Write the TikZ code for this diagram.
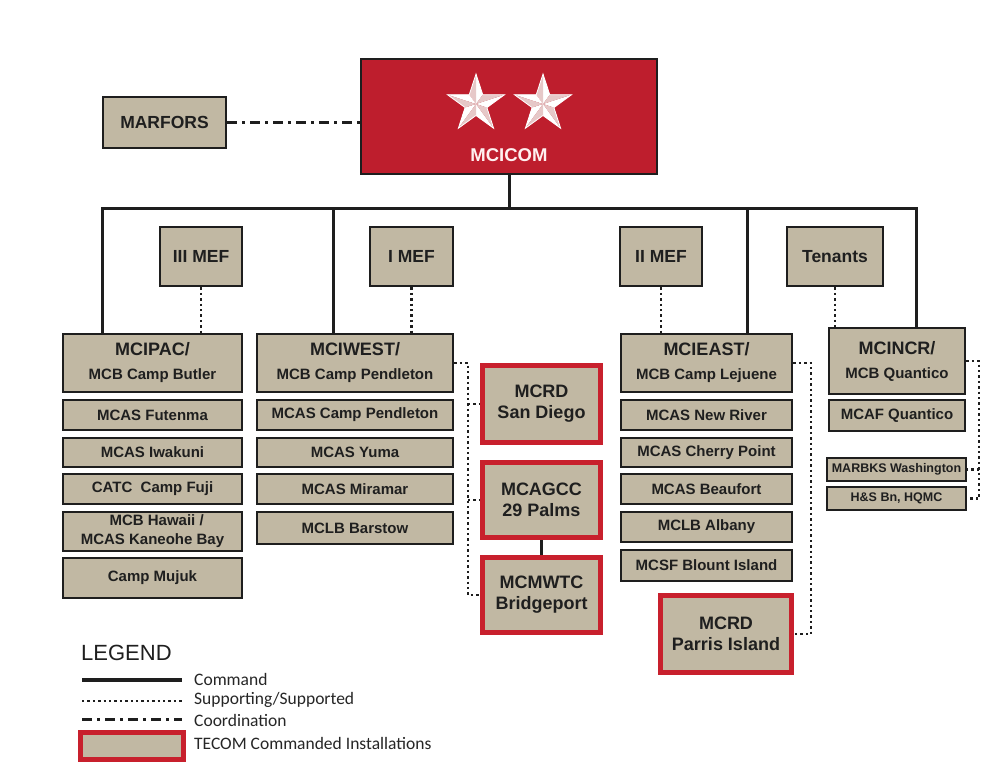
\documentclass[tikz,border=0pt]{standalone}
\usepackage{fontspec}
\setmainfont{Liberation Sans}
\newfontfamily\legendfont{Carlito}
\definecolor{boxtan}{RGB}{193,184,163}
\definecolor{boxline}{RGB}{30,30,30}
\definecolor{tecomred}{RGB}{200,32,45}
\definecolor{cmdred}{RGB}{190,30,45}
\definecolor{starshade}{RGB}{230,200,200}
\tikzset{
  box/.style={draw=boxline, line width=2.8pt, fill=boxtan, inner sep=0pt, align=center,
    font=\bfseries\fontsize{15}{19}\selectfont, text=black!88},
  headbox/.style={box, font=\bfseries\fontsize{15}{24}\selectfont},
  mefbox/.style={box, font=\bfseries\fontsize{17.5}{21}\selectfont, minimum height=59pt},
  tecom/.style={box, draw=tecomred, line width=5pt, font=\bfseries\fontsize{18}{21}\selectfont},
  smallbox/.style={box, font=\bfseries\fontsize{12.5}{15}\selectfont},
  cmdline/.style={line width=3pt, draw=boxline},
  supline/.style={line width=2.6pt, dash pattern=on 2.4pt off 3pt, draw=boxline},
  coordline/.style={line width=3pt, dash pattern=on 10pt off 5pt on 3pt off 5pt, draw=boxline},
  legtext/.style={anchor=west, inner sep=0pt, font=\legendfont\fontsize{17.5}{20}\selectfont, text=black!85},
}
\newcommand\drawmystar[2]{%
  \begin{scope}[shift={(#1,#2)}]
    \foreach \k in {0,...,4}{
      \fill[white] (0,0) -- (270+72*\k:30) -- (306+72*\k:11.5) -- cycle;
      \fill[starshade] (0,0) -- (270+72*\k:30) -- (234+72*\k:11.5) -- cycle;
    }
    \draw[white, line width=0.8pt, line join=miter]
      (270:30) -- (306:11.5) -- (342:30) -- (18:11.5) -- (54:30) -- (90:11.5)
      -- (126:30) -- (162:11.5) -- (198:30) -- (234:11.5) -- cycle;
  \end{scope}}
\begin{document}
\begin{tikzpicture}[x=1pt,y=-1pt]
\useasboundingbox (0,0) rectangle (1005,782);
\fill[white] (0,0) rectangle (1005,782);

% top
\node[draw=boxline, line width=2.8pt, fill=cmdred, minimum width=296pt, minimum height=115pt] (mcicom) at (509,116.5) {};
\drawmystar{476}{104}
\drawmystar{543}{104}
\node[font=\bfseries\fontsize{18.5}{20}\selectfont, text=white!94!red] (mcicomlabel) at (509,155) {MCICOM};
\node[box, font=\bfseries\fontsize{17.5}{20}\selectfont, minimum width=123pt, minimum height=51pt] (marfors) at (164.5,122.5) {MARFORS};

% MEFs
\node[mefbox, minimum width=82pt] (iiimef) at (201,256.5) {III MEF};
\node[mefbox, minimum width=83pt] (imef) at (411.5,256.5) {I MEF};
\node[mefbox, minimum width=82pt] (iimef) at (661,256.5) {II MEF};
\node[mefbox, minimum width=96pt] (tenants) at (835,256.5) {Tenants};

% MCIPAC column
\node[headbox, minimum width=179pt, minimum height=58pt] (mcipac) at (152.5,363)
  {\raisebox{-3pt}{\fontsize{18}{24}\selectfont MCIPAC/}\\\raisebox{-3pt}{MCB Camp Butler}};
\node[box, minimum width=179pt, minimum height=30pt] (futenma) at (152.5,415) {MCAS Futenma};
\node[box, minimum width=179pt, minimum height=29pt] (iwakuni) at (152.5,452.5) {MCAS Iwakuni};
\node[box, minimum width=179pt, minimum height=30pt] (catc) at (152.5,489) {CATC\ \ Camp Fuji};
\node[box, minimum width=179pt, minimum height=39pt] (hawaii) at (152.5,531.5) {\ \ MCB Hawaii /\\MCAS Kaneohe Bay};
\node[box, minimum width=179pt, minimum height=40pt] (mujuk) at (152.5,578) {Camp Mujuk};

% MCIWEST column
\node[headbox, minimum width=196pt, minimum height=58pt] (mciwest) at (355,363)
  {\raisebox{-3pt}{\fontsize{18}{24}\selectfont MCIWEST/}\\\raisebox{-3pt}{MCB Camp Pendleton}};
\node[box, minimum width=196pt, minimum height=30pt] (mcascp) at (355,415) {MCAS Camp Pendleton};
\node[box, minimum width=196pt, minimum height=29pt] (yuma) at (355,452.5) {MCAS Yuma};
\node[box, minimum width=196pt, minimum height=30pt] (miramar) at (355,489) {MCAS Miramar};
\node[box, minimum width=196pt, minimum height=32pt] (barstow) at (355,528) {MCLB Barstow};

% TECOM west
\node[tecom, minimum width=118pt, minimum height=77pt] (sandiego) at (541.5,404) {MCRD\\San Diego};
\node[tecom, minimum width=118pt, minimum height=75pt] (mcagcc) at (541.5,500) {MCAGCC\\29 Palms};
\node[tecom, minimum width=118pt, minimum height=75pt] (mcmwtc) at (541.5,595) {MCMWTC\\Bridgeport};

% MCIEAST column
\node[headbox, minimum width=171pt, minimum height=58pt] (mcieast) at (706.5,363)
  {\raisebox{-3pt}{\fontsize{18}{24}\selectfont MCIEAST/}\\\raisebox{-3pt}{MCB Camp Lejuene}};
\node[box, minimum width=171pt, minimum height=30pt] (newriver) at (706.5,415) {MCAS New River};
\node[box, minimum width=171pt, minimum height=29pt] (cherry) at (706.5,452.5) {MCAS Cherry Point};
\node[box, minimum width=171pt, minimum height=30pt] (beaufort) at (706.5,489) {MCAS Beaufort};
\node[box, minimum width=171pt, minimum height=30pt] (albany) at (706.5,527) {MCLB Albany};
\node[box, minimum width=171pt, minimum height=31pt] (blount) at (706.5,565.5) {MCSF Blount Island};
\node[tecom, minimum width=131pt, minimum height=77pt] (parris) at (726,634) {MCRD\\Parris Island};

% MCINCR column
\node[headbox, minimum width=136pt, minimum height=66pt] (mcincr) at (897,361)
  {\raisebox{-2pt}{\fontsize{18}{24}\selectfont MCINCR/}\\\raisebox{-2pt}{MCB Quantico}};
\node[box, minimum width=136pt, minimum height=31pt] (mcaf) at (897,415.5) {MCAF Quantico};
\node[smallbox, minimum width=139pt, minimum height=23pt] (marbks) at (896.5,469.5) {MARBKS Washington};
\node[smallbox, minimum width=139pt, minimum height=23pt] (hs) at (896.5,498.5) {H\&S Bn, HQMC};

% command lines
\coordinate (bus) at (509,208);
\coordinate (dA) at (102,208);
\coordinate (dB) at (333,208);
\coordinate (dC) at (747,208);
\coordinate (dD) at (916,208);
\draw[cmdline] (mcicom.south) -- (bus);
\draw[cmdline, line join=miter] (dA |- mcipac.north) -- (dA) -- (dD) -- (dD |- mcincr.north);
\draw[cmdline] (dB) -- (dB |- mciwest.north);
\draw[cmdline] (dC) -- (dC |- mcieast.north);
\draw[cmdline] (mcagcc.south) -- (mcmwtc.north);

% coordination
\draw[coordline] (marfors.east) -- (marfors.east -| mcicom.west);

% supporting lines
\draw[supline] (iiimef.south) -- (iiimef.south |- mcipac.north);
\draw[supline] (imef.south) -- (imef.south |- mciwest.north);
\draw[supline] (iimef.south) -- (iimef.south |- mcieast.north);
\draw[supline] (tenants.south) -- (tenants.south |- mcincr.north);

\coordinate (wbar) at (468,363);
\draw[supline] (mciwest.east) -- (wbar) -- (wbar |- mcmwtc.west) -- (mcmwtc.west);
\draw[supline] (wbar |- sandiego.west) -- (sandiego.west);
\draw[supline] (wbar |- mcagcc.west) -- (mcagcc.west);

\coordinate (ebar) at (811,363);
\draw[supline] (mcieast.east) -- (ebar) -- (ebar |- parris.east) -- (parris.east);

\coordinate (nbar) at (979,361);
\draw[supline] (mcincr.east) -- (nbar) -- (nbar |- hs.east) -- (hs.east);
\draw[supline] (nbar |- marbks.east) -- (marbks.east);

% legend
\node[anchor=west, inner sep=0pt, font=\fontsize{22}{24}\selectfont, text=black!88] (legtitle) at (81,653) {LEGEND};
\coordinate (la1) at (82,680); \coordinate (lb1) at (182,680);
\coordinate (la2) at (82,701); \coordinate (lb2) at (182,701);
\coordinate (la3) at (82,719); \coordinate (lb3) at (182,719);
\draw[cmdline, line width=3.5pt] (la1) -- (lb1);
\draw[supline] (la2) -- (lb2);
\draw[coordline] (la3) -- (lb3);
\node[tecom, minimum width=103pt, minimum height=27pt] (legbox) at (132,746) {};
\node[legtext] (lt1) at (194,679) {Command};
\node[legtext] (lt2) at (194,700) {Supporting/Supported};
\node[legtext] (lt3) at (194,720) {Coordination};
\node[legtext] (lt4) at (194,743) {TECOM Commanded Installations};
\end{tikzpicture}
\end{document}
